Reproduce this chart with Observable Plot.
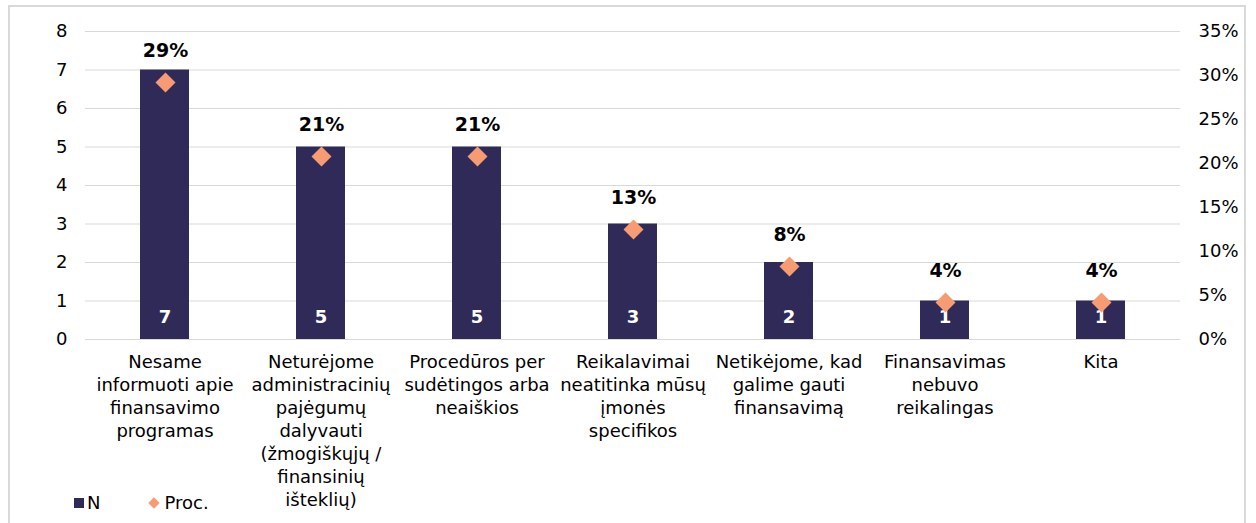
<!DOCTYPE html>
<html>
<head>
<meta charset="utf-8">
<script src="https://cdn.jsdelivr.net/npm/d3@7"></script>
<script src="https://cdn.jsdelivr.net/npm/@observablehq/plot@0.6"></script>
<style>
  html, body { margin: 0; padding: 0; background: #fff; }
  #wrap { position: relative; width: 1256px; height: 523px; overflow: hidden; font-family: "DejaVu Sans", Verdana, sans-serif; }
  #frame { position: absolute; left: 8px; top: 5px; width: 1238px; height: 560px; border: 2px solid #d9d9d9; box-sizing: border-box; }
  .layer { position: absolute; left: 0; top: 0; }
  #legend { position: absolute; left: 74px; top: 492px; font-size: 18px; line-height: 22px; color: #000; display: flex; align-items: center; }
  .sw { display: inline-block; width: 10px; height: 10px; background: #302a58; margin-right: 3px; }
  .dm { display: inline-block; width: 8px; height: 8px; background: #f79b72; transform: rotate(45deg); margin-left: 50px; margin-right: 6px; }
</style>
</head>
<body>
<div id="wrap">
  <div id="frame"></div>
  <div id="p1" class="layer"></div>
  <div id="p2" class="layer"></div>
  <div id="legend"><span class="sw"></span><span>N</span><span class="dm"></span><span>Proc.</span></div>
</div>
<script>
const categories = [
  "Nesame\ninformuoti apie\nfinansavimo\nprogramas",
  "Neturėjome\nadministracinių\npajėgumų\ndalyvauti\n(žmogiškųjų /\nfinansinių\ništeklių)",
  "Procedūros per\nsudėtingos arba\nneaiškios",
  "Reikalavimai\nneatitinka mūsų\nįmonės\nspecifikos",
  "Netikėjome, kad\ngalime gauti\nfinansavimą",
  "Finansavimas\nnebuvo\nreikalingas",
  "Kita"
];
const nValues = [7, 5, 5, 3, 2, 1, 1];
const procValues = [0.292, 0.208, 0.208, 0.125, 0.083, 0.042, 0.042];
const leftTicks = [0, 1, 2, 3, 4, 5, 6, 7, 8];
const rightTicks = [0, 0.05, 0.10, 0.15, 0.20, 0.25, 0.30, 0.35];

const data = categories.map((c, i) => ({cat: c, n: nValues[i], proc: procValues[i]}));

const W = 1256, H = 523;
const FS = 18;
const common = {
  width: W, height: H,
  marginLeft: 85, marginRight: 76, marginTop: 31, marginBottom: 184,
  style: {background: "transparent", fontFamily: "'DejaVu Sans', Verdana, sans-serif", fontSize: FS + "px", color: "#000", overflow: "visible"},
  x: {domain: categories, paddingInner: 0.687, paddingOuter: 0.3435, axis: null}
};

const pct = d3.format(".0%");

const p1 = Plot.plot({
  ...common,
  y: {domain: [0, 8], axis: null},
  marks: [
    Plot.ruleY(leftTicks, {stroke: "#d9d9d9", strokeWidth: 1.2}),
    Plot.axisY(leftTicks, {anchor: "left", tickSize: 0, tickPadding: 18, fontSize: FS, label: null, fill: "#000"}),
    Plot.barY(data, {x: "cat", y: "n", fill: "#302a58"}),
    Plot.text(data, {x: "cat", y: 0, text: d => String(d.n), dy: -22, fill: "white", fontWeight: "bold", fontSize: FS}),
    Plot.text(data, {x: "cat", y: 0, text: "cat", lineAnchor: "top", dy: 12, lineHeight: 23 / FS, fontSize: FS, fill: "#000"})
  ]
});
document.getElementById("p1").appendChild(p1);

const p2 = Plot.plot({
  ...common,
  y: {domain: [0, 0.35], axis: null},
  marks: [
    Plot.axisY(rightTicks, {anchor: "right", tickSize: 0, tickPadding: 18, fontSize: FS, label: null, tickFormat: pct, fill: "#000"}),
    Plot.dot(data, {x: "cat", y: "proc", symbol: "diamond2", r: 9, fill: "#f79b72", stroke: null}),
    Plot.text(data, {x: "cat", y: "proc", text: d => pct(d.proc), dy: -32, fontWeight: "bold", fontSize: 19, fill: "#000"})
  ]
});
document.getElementById("p2").appendChild(p2);
</script>
</body>
</html>
